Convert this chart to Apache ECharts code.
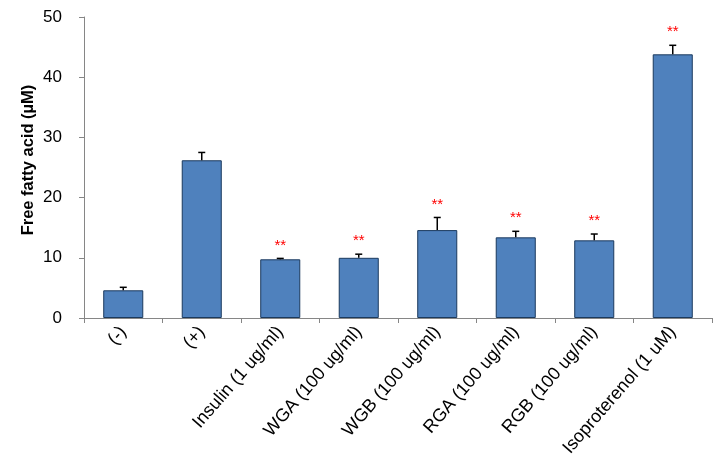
<!DOCTYPE html>
<html><head><meta charset="utf-8">
<script src="https://cdn.jsdelivr.net/npm/echarts@6/dist/echarts.min.js"></script>
<style>html,body{margin:0;padding:0;background:#fff}#c{width:728px;height:472px}</style>
</head><body><div id="c"></div>
<script>
var categories = ['(-)', '(+)', 'Insulin (1 ug/ml)', 'WGA (100 ug/ml)', 'WGB (100 ug/ml)', 'RGA (100 ug/ml)', 'RGB (100 ug/ml)', 'Isoproterenol (1 uM)'];
var means = [4.6, 26.2, 9.75, 10.0, 14.6, 13.4, 12.9, 43.8];
var errors = [0.5, 1.3, 0.15, 0.6, 2.1, 1.0, 1.05, 1.5];
var marks = ['', '', '**', '**', '**', '**', '**', '**'];
var yTicks = [0, 10, 20, 30, 40, 50];
var yTitle = 'Free fatty acid (\u00b5M)';

var errData = means.map(function (m, i) { return [i, m, m + errors[i], marks[i] ? 1 : 0]; });

var chart = echarts.init(document.getElementById('c'));
chart.setOption({
  animation: false,
  grid: { left: 84, right: 16, top: 17, bottom: 154, containLabel: false },
  graphic: [{
    type: 'text', x: 28, y: 160, rotation: Math.PI / 2,
    style: { text: yTitle, align: 'center', verticalAlign: 'middle', fill: '#000', font: 'bold 16.5px Liberation Sans, Arial' }
  }],
  xAxis: {
    type: 'category', data: categories,
    axisLine: { lineStyle: { color: '#868686', width: 1 } },
    axisTick: { show: true, alignWithLabel: false, length: 5, lineStyle: { color: '#868686' } },
    axisLabel: { rotate: 49, interval: 0, margin: 11, color: '#000', fontFamily: 'Liberation Sans, Arial', fontSize: 18 }
  },
  yAxis: {
    type: 'value', min: yTicks[0], max: yTicks[yTicks.length - 1], interval: 10,
    axisLine: { show: true, lineStyle: { color: '#868686', width: 1 } },
    axisTick: { show: true, length: 5, lineStyle: { color: '#868686' } },
    axisLabel: { margin: 22, color: '#000', fontFamily: 'Liberation Sans, Arial', fontSize: 17 },
    splitLine: { show: false }
  },
  series: [
    {
      type: 'bar', data: means, barWidth: '51%',
      itemStyle: { color: '#4F81BD', borderColor: '#1B3A5E', borderWidth: 1 }
    },
    {
      type: 'custom', data: errData, z: 5,
      renderItem: function (params, api) {
        var x = api.value(0);
        var base = api.coord([x, api.value(1)]);
        var top = api.coord([x, api.value(2)]);
        var children = [
          { type: 'line', shape: { x1: base[0], y1: base[1], x2: top[0], y2: top[1] }, style: { stroke: '#000', lineWidth: 1.5 } },
          { type: 'line', shape: { x1: top[0] - 3.5, y1: top[1], x2: top[0] + 3.5, y2: top[1] }, style: { stroke: '#000', lineWidth: 1.5 } }
        ];
        if (api.value(3)) {
          children.push({ type: 'text', style: { text: marks[params.dataIndex], x: top[0], y: top[1] - 13, align: 'center', verticalAlign: 'middle', fill: '#FF0000', font: '15px Liberation Sans, Arial' } });
        }
        return { type: 'group', children: children };
      }
    }
  ]
});
</script></body></html>
